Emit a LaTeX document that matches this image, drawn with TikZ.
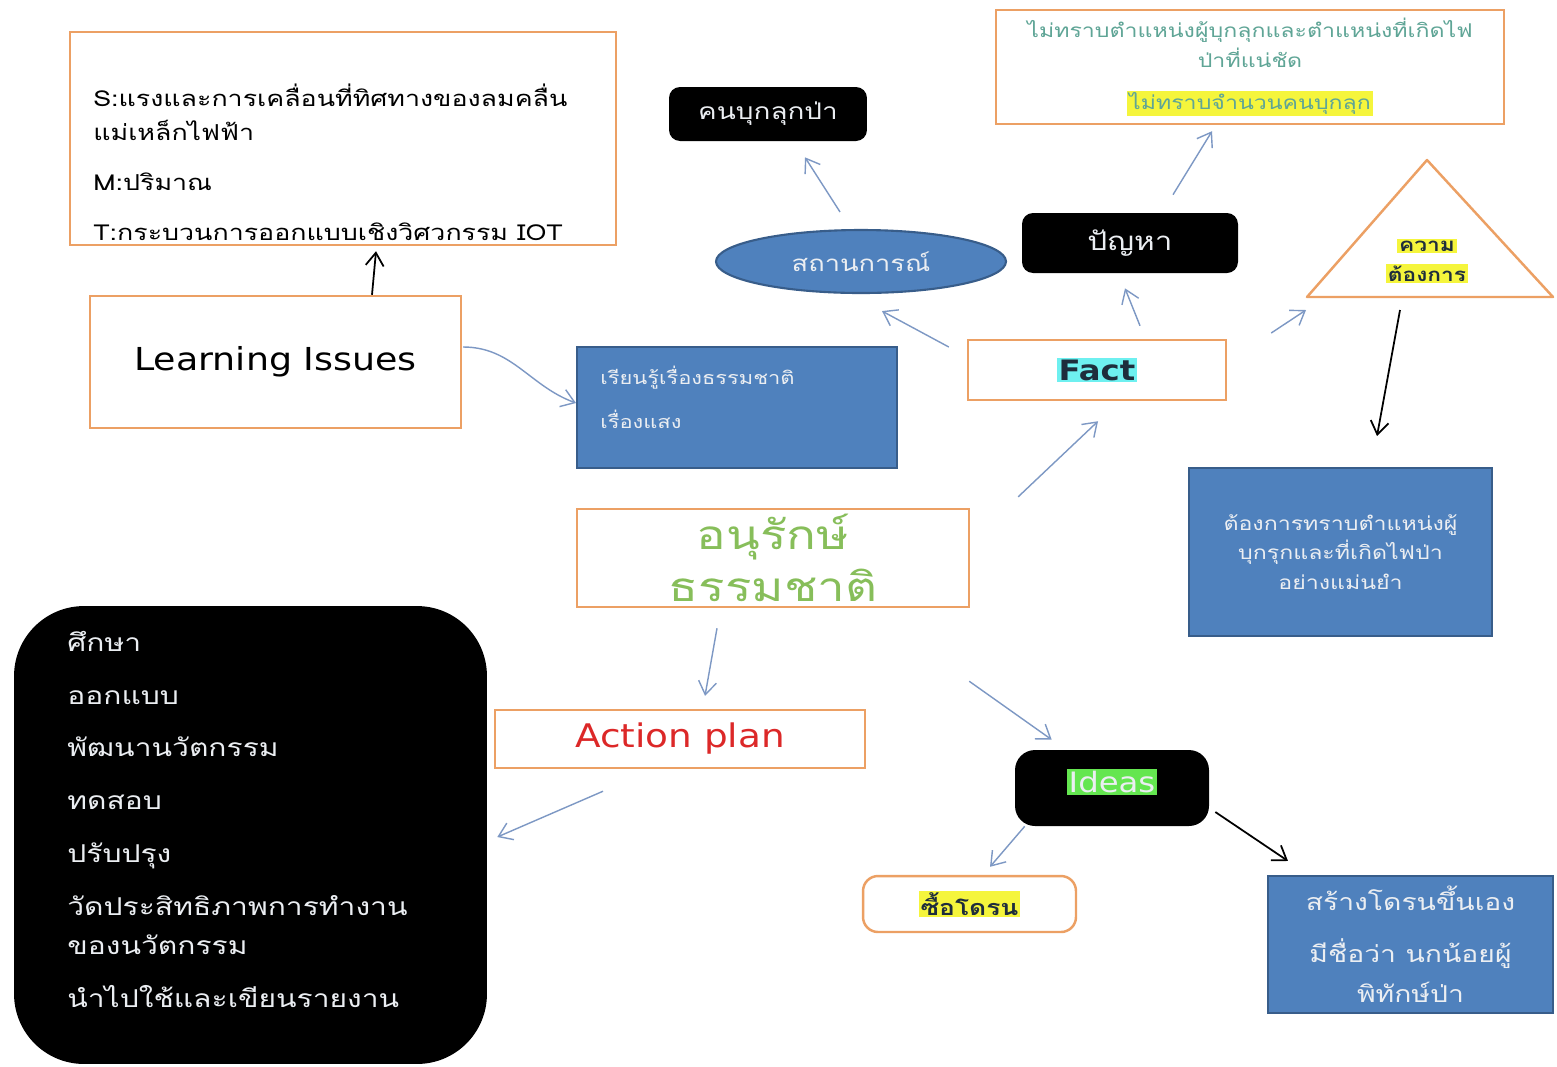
\documentclass[tikz,border=0pt]{standalone}
\usepackage{fontspec}
\setmainfont{Loma}[Script=Thai, FakeStretch=1.22]
\newfontfamily\latinsans{DejaVu Sans}[FakeStretch=1.15]
\usepackage{xcolor}
\usetikzlibrary{arrows.meta, positioning, shapes.geometric}

\definecolor{boxorange}{RGB}{236,160,100}
\definecolor{boxblue}{RGB}{79,129,189}
\definecolor{blueedge}{RGB}{56,93,138}
\definecolor{arrowblue}{RGB}{125,152,196}
\definecolor{factcyan}{RGB}{110,240,240}
\definecolor{factink}{RGB}{30,45,60}
\definecolor{markyellow}{RGB}{245,245,60}
\definecolor{ideagreen}{RGB}{100,230,80}
\definecolor{tealtext}{RGB}{95,165,150}
\definecolor{leafgreen}{RGB}{135,190,90}
\definecolor{planred}{RGB}{220,40,40}
\definecolor{softwhite}{RGB}{235,238,242}

\newcommand{\marktext}[2]{{\setlength{\fboxsep}{1pt}\colorbox{#1}{#2}}}

\begin{document}
\begin{tikzpicture}[
    x = 0.02cm, y = -0.02cm, % one unit = one pixel of the sketch
    > = {Straight Barb[length=2.6mm, width=3.6mm]}, % open arrow head
    orangebox/.style={rectangle, draw=boxorange, line width=1.4pt, fill=white, inner sep=0pt},
    bluebox/.style={rectangle, draw=blueedge, line width=1.2pt, fill=boxblue, text=softwhite, inner sep=0pt},
    blackbox/.style={rectangle, rounded corners=0.22cm, fill=black, text=softwhite, inner sep=0pt},
    link/.style={->, draw=arrowblue, line width=0.8pt},
    darklink/.style={->, draw=black, line width=1pt}
  ]

  \useasboundingbox (0,0) rectangle (1557,1066);
  \fill[white] (0,0) rectangle (1557,1066);

  % left column
  \node[orangebox, minimum width=10.92cm, minimum height=4.26cm] (tbox) at (343,138.5) {};
  \node[anchor=north west, align=left, inner sep=0pt, font=\fontsize{12.5}{19.3}\selectfont] (tboxtext) at (93,84)
    {S:แรงและการเคลื่อนที่ทิศทางของลมคลื่น\\แม่เหล็กไฟฟ้า\\[9pt]M:ปริมาณ\\[9pt]T:กระบวนการออกแบบเชิงวิศวกรรม IOT};
  \node[orangebox, minimum width=7.42cm, minimum height=2.64cm, font=\latinsans\fontsize{18}{20}\selectfont] (learn) at (275.5,362) {Learning Issues};
  \node[bluebox, minimum width=6.4cm, minimum height=2.42cm] (lbox) at (737,407.5) {};
  \node[anchor=north west, align=left, inner sep=0pt, text=softwhite, font=\fontsize{10.2}{25}\selectfont] (lboxtext) at (600,366)
    {เรียนรู้เรื่องธรรมชาติ\\เรื่องแสง};

  % top middle
  \node[blackbox, minimum width=3.96cm, minimum height=1.08cm, font=\fontsize{13}{15}\selectfont] (intruder) at (768,114) {คนบุกลุกป่า};
  \node[ellipse, draw=blueedge, line width=1.2pt, fill=boxblue, text=softwhite, minimum width=5.8cm, minimum height=1.26cm, inner sep=0pt, font=\fontsize{12.7}{15}\selectfont] (situ) at (861,261.5) {สถานการณ์};
  \node[blackbox, minimum width=4.32cm, minimum height=1.2cm, font=\fontsize{14.7}{17}\selectfont] (problem) at (1130,243) {ปัญหา};
  \node[orangebox, minimum width=10.16cm, minimum height=2.28cm, text=tealtext, align=center, font=\fontsize{10.8}{17}\selectfont] (unknown) at (1250,67)
    {ไม่ทราบตำแหน่งผู้บุกลุกและตำแหน่งที่เกิดไฟ\\ป่าที่แน่ชัด\\[7pt]\marktext{markyellow}{ไม่ทราบจำนวนคนบุกลุก}};

  % triangle
  \coordinate (tritop) at (1427,160);
  \coordinate (trileft) at (1307,297);
  \coordinate (triright) at (1553,297);
  \draw[draw=boxorange, line width=1.4pt, line join=round] (tritop) -- (trileft) -- (triright) -- cycle;
  \node[align=center, inner sep=0pt, text=factink, font=\bfseries\fontsize{10.6}{17}\selectfont] (want) at (1427,261)
    {\marktext{markyellow}{ความ}\\\marktext{markyellow}{ต้องการ}};

  \node[orangebox, minimum width=5.16cm, minimum height=1.2cm, text=factink, font=\latinsans\bfseries\fontsize{16}{18}\selectfont] (fact) at (1097,370) {\marktext{factcyan}{Fact}};
  \node[bluebox, minimum width=6.06cm, minimum height=3.36cm, align=center, font=\fontsize{10.8}{17}\selectfont] (need) at (1340.5,552)
    {ต้องการทราบตำแหน่งผู้\\บุกรุกและที่เกิดไฟป่า\\อย่างแม่นยำ};

  % centre and bottom
  \node[orangebox, minimum width=7.84cm, minimum height=1.96cm, text=leafgreen, align=center, font=\fontsize{23}{29.5}\selectfont] (conserve) at (773,558) {อนุรักษ์\\ธรรมชาติ};
  \node[orangebox, minimum width=7.4cm, minimum height=1.16cm, text=planred, font=\latinsans\fontsize{18.5}{21}\selectfont] (action) at (680,739) {Action plan};
  \node[blackbox, rounded corners=1.4cm, minimum width=9.46cm, minimum height=9.16cm] (steps) at (250.5,835) {};
  \node[anchor=north west, align=left, inner sep=0pt, text=softwhite, font=\fontsize{14}{22.7}\selectfont] (stepstext) at (67,631)
    {ศึกษา\\[7.3pt]ออกแบบ\\[7.3pt]พัฒนานวัตกรรม\\[7.3pt]ทดสอบ\\[7.3pt]ปรับปรุง\\[7.3pt]วัดประสิทธิภาพการทำงาน\\ของนวัตกรรม\\[7.3pt]นำไปใช้และเขียนรายงาน};
  \node[blackbox, rounded corners=0.4cm, minimum width=3.88cm, minimum height=1.52cm, font=\latinsans\fontsize{16}{18}\selectfont] (ideas) at (1112,788) {\raisebox{8pt}{\marktext{ideagreen}{Ideas}}};
  \node[orangebox, rounded corners=0.3cm, minimum width=4.26cm, minimum height=1.12cm, text=factink, font=\bfseries\fontsize{12.3}{14}\selectfont] (buy) at (969.5,904) {\marktext{markyellow}{ซื้อโดรน}};
  \node[bluebox, minimum width=5.7cm, minimum height=2.74cm, align=center, font=\fontsize{13.2}{23}\selectfont] (build) at (1410.5,944.5)
    {สร้างโดรนขึ้นเอง\\[6.5pt]มีชื่อว่า นกน้อยผู้\\พิทักษ์ป่า};

  % connectors
  \draw[darklink] ([shift={(96.5,0)}]learn.north) -- ([shift={(33,5)}]tbox.south);
  \draw[link] ([shift={(1,-15)}]learn.east) to[out=0, in=160] ([shift={(0,-4.5)}]lbox.west);
  \draw[link] ([shift={(-18,-23)}]fact.west) -- ([shift={(21,17)}]situ.south);
  \draw[link] ([shift={(-21,-17)}]situ.north) -- ([shift={(37,16)}]intruder.south);
  \draw[link] ([shift={(43,-13)}]fact.north) -- ([shift={(-5,15)}]problem.south);
  \draw[link] ([shift={(43,-18)}]problem.north) -- ([shift={(-38,6)}]unknown.south);
  \draw[link] ([shift={(44,-37)}]fact.east) -- ([shift={(-1,13)}]trileft);
  \draw[darklink] ([shift={(-27,49)}]want.center) -- ([shift={(36.5,-31)}]need.north);
  \draw[link] ([shift={(48,-11)}]conserve.north east) -- ([shift={(1,20)}]fact.south);
  \draw[link] ([shift={(-56,20)}]conserve.south) -- ([shift={(25,-13)}]action.north);
  \draw[link] ([shift={(-1,73)}]conserve.south east) -- ([shift={(37,-10)}]ideas.north west);
  \draw[link] ([shift={(-77,22)}]action.south) -- ([shift={(10,2)}]steps.east);
  \draw[link] ([shift={(10,0)}]ideas.south west) -- ([shift={(20.5,-8)}]buy.north);
  \draw[darklink] ([shift={(6,24)}]ideas.east) -- ([shift={(21,-14)}]build.north west);
\end{tikzpicture}
\end{document}
